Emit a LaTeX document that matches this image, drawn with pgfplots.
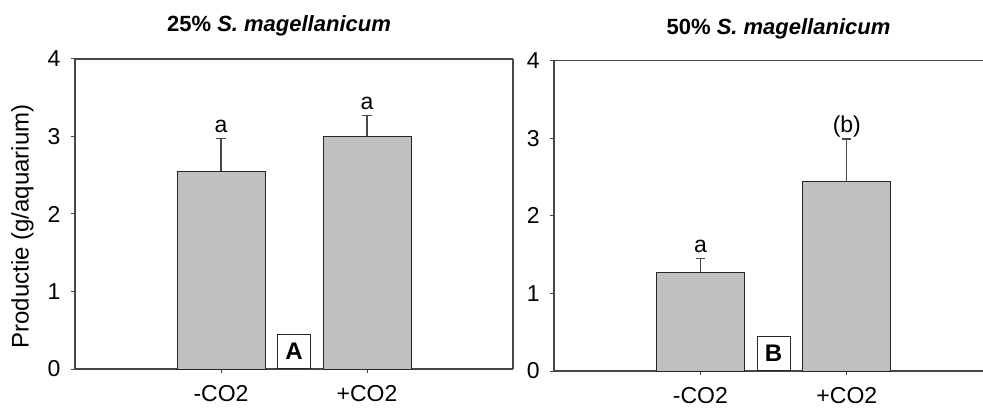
\documentclass[border=0pt]{standalone}
\usepackage{fontspec}
\setmainfont{Liberation Sans}
\usepackage{pgfplots}
\pgfplotsset{compat=1.18}

\definecolor{barfill}{RGB}{192,192,192}
\definecolor{axisgray}{RGB}{70,70,70}

\pgfplotsset{
  panel/.style={
    scale only axis,
    ymin=0, ymax=4,
    xmin=0,
    ytick={0,1,2,3,4},
    xtick={1,2},
    xticklabels={-CO2,+CO2},
    tick align=outside,
    major tick length=2.2pt,
    xtick pos=bottom,
    ytick pos=left,
    separate axis lines,
    axis line style={axisgray, line width=0.6pt},
    tick style={axisgray, line width=0.5pt},
    /pgf/number format/assume math mode=true,
    yticklabel style={font=\fontsize{11.5}{13}\selectfont, xshift=-1.5pt},
    xticklabel style={font=\fontsize{11.5}{13}\selectfont, yshift=-2.5pt},
    clip=false,
  },
  bars/.style={
    ybar, bar width=44pt, fill=barfill, draw=black!85, line width=0.5pt,
    error bars/.cd,
      y dir=plus, y explicit,
      error bar style={axisgray, line width=0.6pt},
      error mark options={axisgray, line width=0.6pt, mark size=2.3pt, rotate=90},
  },
}
\tikzset{
  sig/.style={anchor=base, yshift=3.2pt, font=\fontsize{11.5}{13}\selectfont},
  panelbox/.style={draw=black!85, fill=white, line width=0.5pt, inner sep=0pt,
    minimum width=16.5pt, minimum height=17pt, anchor=south,
    font=\bfseries\fontsize{12}{14}\selectfont},
}

\begin{document}
\begin{tikzpicture}
\useasboundingbox (0,0) rectangle (491.5pt,203.5pt);

% Panel A: 25% S. magellanicum
\begin{axis}[panel,
  at={(37.5pt,19pt)}, anchor=south west,
  width=219pt, height=155pt,
  xmax=3,
  ylabel={Productie (g/aquarium)},
  ylabel style={at={(axis description cs:-0.12,0.46)}, anchor=center,
    font=\fontsize{12}{14}\selectfont},
]
\addplot[bars] coordinates {(1,2.55) +- (0,0.42) (2,3.00) +- (0,0.27)};
\node[sig] at (axis cs:1,2.97) {a};
\node[sig] at (axis cs:2,3.27) {a};
\node[panelbox] at (axis cs:1.5,0) {A};
\end{axis}

% Panel B: 50% S. magellanicum
\begin{axis}[panel,
  at={(277pt,18pt)}, anchor=south west,
  width=214.5pt, height=155.15pt,
  xmax=2.93,
  axis y line*=left,
]
\addplot[bars] coordinates {(1,1.27) +- (0,0.18) (2,2.44) +- (0,0.55)};
\node[sig] at (axis cs:1,1.45) {a};
\node[sig] at (axis cs:2,2.99) {(b)};
\node[panelbox] at (axis cs:1.5,0) {B};
\end{axis}

\node[anchor=base, font=\bfseries\fontsize{11}{13}\selectfont]
  at (139.5pt,187.5pt) {25\% \textit{S. magellanicum}};
\node[anchor=base, font=\bfseries\fontsize{11}{13}\selectfont]
  at (389.25pt,186pt) {50\% \textit{S. magellanicum}};
\end{tikzpicture}
\end{document}
